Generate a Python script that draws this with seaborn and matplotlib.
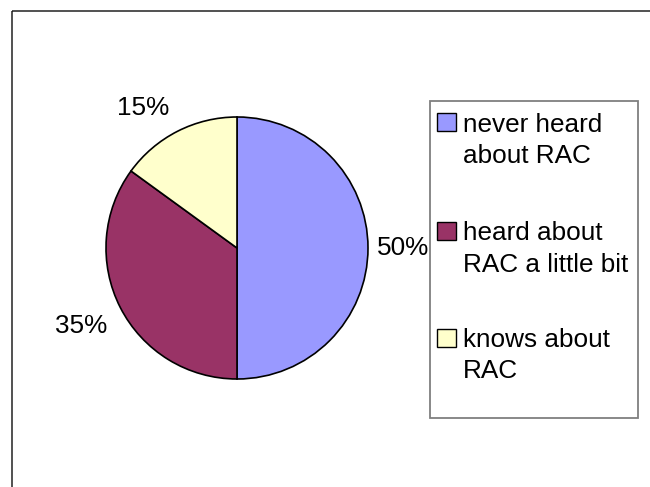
import numpy as np
import matplotlib
matplotlib.use("Agg")
import matplotlib.pyplot as plt
from matplotlib.patches import Rectangle
import seaborn as sns

# Survey answers about RAC awareness
categories = ["never heard about RAC", "heard about RAC a little bit", "knows about RAC"]
legend_lines = [["never heard", "about RAC"], ["heard about", "RAC a little bit"], ["knows about", "RAC"]]
shares = [50, 35, 15]
pct_labels = ["50%", "35%", "15%"]
slice_colors = ["#9999FF", "#993366", "#FFFFCC"]

sns.set_theme(style="white")
plt.rcParams["font.family"] = ["Liberation Sans", "DejaVu Sans"]
palette = sns.color_palette(slice_colors)

W, H, DPI = 650, 487, 100
fig = plt.figure(figsize=(W / DPI, H / DPI), dpi=DPI)
fig.patch.set_facecolor("white")

# Overlay in pixel units for the outer frame and the legend box
ov = fig.add_axes([0, 0, 1, 1], zorder=0)
ov.set_xlim(0, W)
ov.set_ylim(H, 0)
ov.axis("off")
ov.add_patch(Rectangle((11.6, 10.8), W + 20, H + 20, fill=False,
                       edgecolor="#222222", lw=1.1, clip_on=False))

# Pie axes: centre (237, 248) px, radius 131 px
cx, cy, r = 237, 248, 131
ax = fig.add_axes([(cx - r) / W, (H - cy - r) / H, 2 * r / W, 2 * r / H], zorder=2)
wedges, _ = ax.pie(shares, colors=palette, startangle=90, counterclock=False,
                   wedgeprops=dict(edgecolor="black", linewidth=1.2))
ax.set_xlim(-1, 1)
ax.set_ylim(-1, 1)
ax.set_aspect("auto")
ax.axis("off")

fs = 18.8
label_dist = [1.07, 1.11, 1.14]
for w, txt, d in zip(wedges, pct_labels, label_dist):
    ang = np.deg2rad((w.theta1 + w.theta2) / 2)
    c, s = np.cos(ang), np.sin(ang)
    ha = "left" if c > 0.01 else ("right" if c < -0.01 else "center")
    va = "center" if abs(s) < 0.1 else ("baseline" if s > 0 else "top")
    ax.text(d * c, d * s, txt, ha=ha, va=va, fontsize=fs, color="black", clip_on=False)

# Legend box with swatches aligned to the first line of each entry
ov.add_patch(Rectangle((430, 100.8), 208, 317.2, facecolor="none",
                       edgecolor="#7f7f7f", lw=1.3))
first_baselines = [131.5, 240.0, 347.0]
line_gap = 31.5
for lines, col, yb in zip(legend_lines, palette, first_baselines):
    ov.add_patch(Rectangle((437.3, yb - 18.3), 18.5, 18.0, facecolor=col,
                           edgecolor="black", lw=1.0))
    for k, ln in enumerate(lines):
        ov.text(463, yb + k * line_gap, ln, ha="left", va="baseline",
                fontsize=fs, color="black")

fig.savefig("out.png", dpi=DPI)
